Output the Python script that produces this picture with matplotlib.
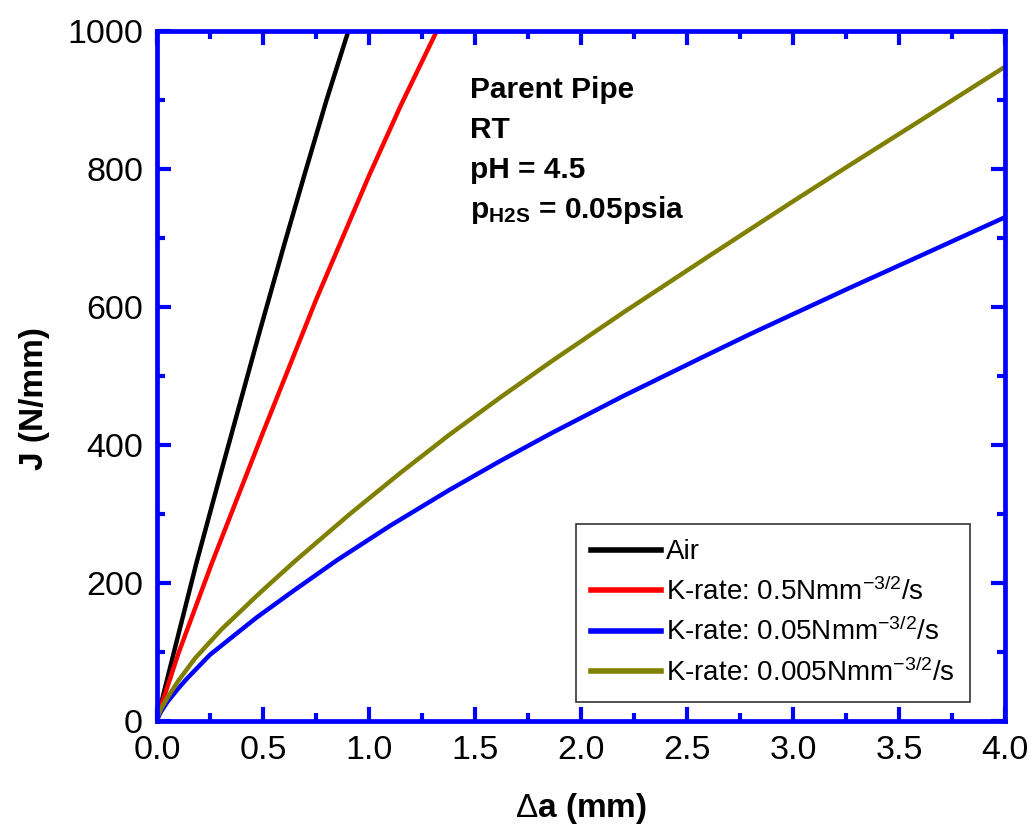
import matplotlib
matplotlib.use("Agg")
import matplotlib.pyplot as plt
from matplotlib.ticker import MultipleLocator

plt.rcParams["font.family"] = ["Liberation Sans", "DejaVu Sans"]
plt.rcParams["mathtext.fontset"] = "custom"
plt.rcParams["mathtext.rm"] = "Liberation Sans"
plt.rcParams["mathtext.bf"] = "Liberation Sans:bold"
plt.rcParams["mathtext.it"] = "Liberation Sans:italic"

# Кривые J-R, значения
air_da = [0.0, 0.03, 0.077, 0.187, 0.3, 0.486, 0.6, 0.7, 0.8, 0.903]
air_j = [0, 38, 96, 230, 358, 566, 690, 796, 900, 1000]

k05_da = [0.0, 0.022, 0.1, 0.258, 0.5, 0.75, 1.0, 1.15, 1.32]
k05_j = [0, 24, 97, 228, 418, 610, 790, 892, 1000]

k005_da = [0.0, 0.005, 0.02, 0.05, 0.1, 0.14, 0.25, 0.47, 0.65, 0.849, 1.1,
           1.38, 1.62, 1.86, 2.2, 2.565, 2.8, 3.27, 3.6, 4.0]
k005_j = [0, 5, 14, 28, 47, 61, 96, 150, 190, 233, 283,
          335, 377, 417, 471, 526, 561, 628, 674, 730]

k0005_da = [0.0, 0.005, 0.02, 0.05, 0.1, 0.18, 0.305, 0.49, 0.652, 0.91, 1.15,
            1.38, 1.62, 1.86, 2.2, 2.6, 3.0, 3.27, 3.6, 4.0]
k0005_j = [0, 7, 18, 34, 58, 91, 133, 187, 232, 300, 360,
           415, 469, 521, 592, 673, 753, 806, 870, 948]

labels = [
    "Air",
    r"K-rate: 0.5Nmm$^{\mathrm{-3/2}}$/s",
    r"K-rate: 0.05Nmm$^{\mathrm{-3/2}}$/s",
    r"K-rate: 0.005Nmm$^{\mathrm{-3/2}}$/s",
]
colors = ["black", "#ff0000", "#0000ff", "#808000"]

info_lines = ["Parent Pipe", "RT", "pH = 4.5", r"p$_{\mathbf{H2S}}$ = 0.05psia"]

fig = plt.figure(figsize=(10.36, 8.3), dpi=100)
ax = fig.add_axes([0.1515, 0.1313, 0.8185, 0.8314])

series = [(air_da, air_j), (k05_da, k05_j), (k005_da, k005_j), (k0005_da, k0005_j)]
for (xs, ys), lab, c in zip(series, labels, colors):
    ax.plot(xs, ys, color=c, lw=3.2, label=lab, solid_joinstyle="round")

ax.set_xlim(0, 4.0)
ax.set_ylim(0, 1000)
ax.xaxis.set_major_locator(MultipleLocator(0.5))
ax.xaxis.set_minor_locator(MultipleLocator(0.25))
ax.yaxis.set_major_locator(MultipleLocator(200))
ax.yaxis.set_minor_locator(MultipleLocator(100))
ax.set_xticklabels([f"{v:.1f}" for v in ax.get_xticks()])

for sp in ax.spines.values():
    sp.set_color("#0000ff")
    sp.set_linewidth(3.4)

ax.tick_params(which="both", direction="in", top=True, right=True,
               color="#0000ff", labelsize=24.5, pad=10)
ax.tick_params(which="major", length=10, width=3)
ax.tick_params(which="minor", length=5.5, width=3)

ax.set_xlabel(r"$\Delta$a (mm)", fontsize=24, fontweight="bold")
ax.xaxis.set_label_coords(0.5, -0.102)
ax.set_ylabel("J (N/mm)", fontsize=24, fontweight="bold")
ax.yaxis.set_label_coords(-0.126, 0.467)

for i, t in enumerate(info_lines):
    fig.text(0.4537, 1 - (90 + 40 * i) / 830, t, fontsize=21.5,
             fontweight="bold", va="center", ha="left")

leg = ax.legend(loc="lower right", bbox_to_anchor=(970 / 1036, 1 - 702 / 830),
                bbox_transform=fig.transFigure, borderaxespad=0, fontsize=20,
                handlelength=2.5, handletextpad=0.2, labelspacing=0.43,
                fancybox=False, framealpha=1, borderpad=0.55)
leg.get_frame().set_edgecolor("#333333")
leg.get_frame().set_linewidth(1.2)
for line in leg.get_lines():
    line.set_linewidth(4)

fig.savefig("out.png", dpi=100)
